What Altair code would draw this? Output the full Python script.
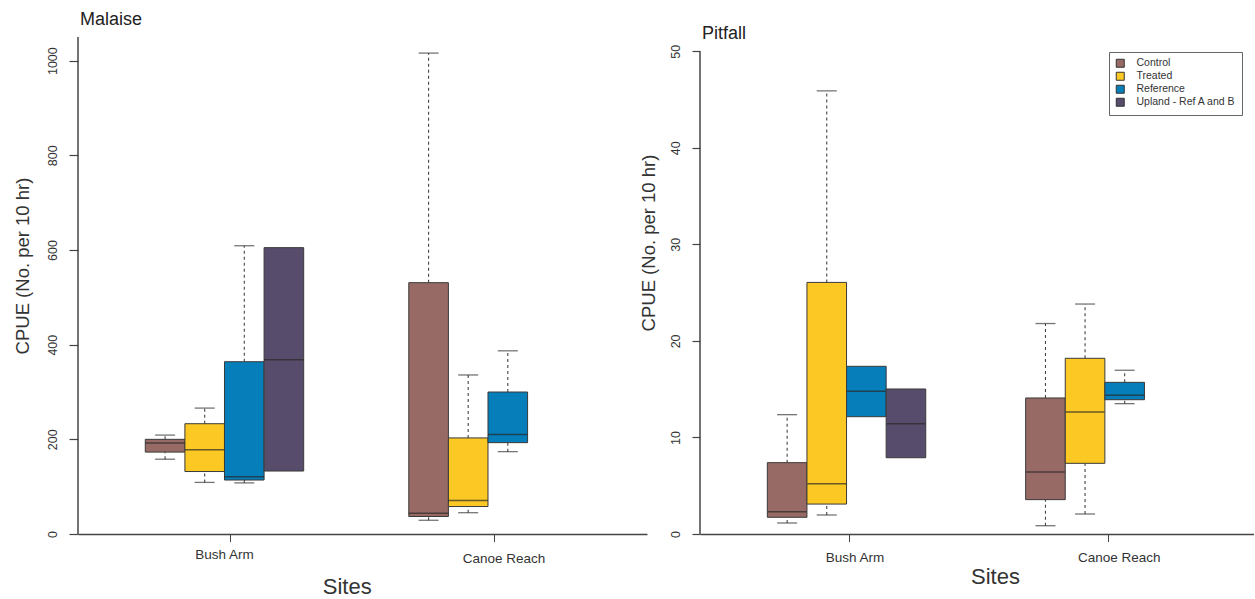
import altair as alt
import pandas as pd

FONT = "Liberation Sans"
INK = "#333333"
AXIS = "#444444"

GROUPS = ["Control", "Treated", "Reference", "Upland - Ref A and B"]
COLORS = ["#986A65", "#FBC824", "#057EBA", "#584C6C"]
SITES = ["Bush Arm", "Canoe Reach"]

# Malaise traps: box-plot summaries (whisker low, Q1, median, Q3, whisker high)
mal_site = ["Bush Arm"] * 4 + ["Canoe Reach"] * 3
mal_group = GROUPS + GROUPS[:3]
mal_low = [158, 109, 108, None, 29, 45, 174]
mal_q1 = [173, 132, 114, 133, 37, 58, 193]
mal_med = [192, 178, 121, 368, 44, 71, 210]
mal_q3 = [200, 233, 364, 605, 531, 203, 300]
mal_high = [209, 266, 609, None, 1016, 336, 387]

# Pitfall traps
pit_site = ["Bush Arm"] * 4 + ["Canoe Reach"] * 3
pit_group = GROUPS + GROUPS[:3]
pit_low = [1.14, 1.97, None, None, 0.86, 2.07, 13.5]
pit_q1 = [1.73, 3.1, 12.15, 7.9, 3.56, 7.32, 13.91]
pit_med = [2.31, 5.2, 14.78, 11.43, 6.42, 12.64, 14.37]
pit_q3 = [7.39, 26.06, 17.37, 15.02, 14.09, 18.2, 15.71]
pit_high = [12.36, 45.9, None, None, 21.8, 23.82, 16.96]

mal_ticks = [0, 200, 400, 600, 800, 1000]
pit_ticks = [0, 10, 20, 30, 40, 50]


def frame(site, group, low, q1, med, q3, high):
    return pd.DataFrame({"site": site, "group": group, "low": low, "q1": q1,
                         "med": med, "q3": q3, "high": high})


def panel(df, name, ticks, y_top, axis_top, width, height, box_w,
          pad_outer, align, slot_range, tick_size, label_pad, ytitle_xy,
          sites_xy, label_offset, xlabel_pad, title_offset, legend):
    yscale = alt.Scale(domain=[0, y_top], nice=False, zero=True)
    x = alt.X("site:N",
              scale=alt.Scale(domain=SITES, paddingInner=0,
                              paddingOuter=pad_outer, align=align),
              axis=alt.Axis(title="Sites", titleFontSize=22, titleFont=FONT,
                            titleFontWeight="normal", titleColor=INK,
                            titleX=sites_xy[0], titleY=sites_xy[1],
                            titleAlign="center", titleBaseline="middle",
                            labelAngle=0, labelFont=FONT, labelFontSize=13.5,
                            labelColor=INK, labelOffset=label_offset,
                            labelPadding=xlabel_pad, tickSize=7.5,
                            tickColor=AXIS, domainColor=AXIS, domainWidth=1.5,
                            bandPosition=0.523))
    xo = alt.XOffset("group:N",
                     scale=alt.Scale(domain=GROUPS, paddingInner=0,
                                     paddingOuter=0, range=slot_range))
    color = alt.Color("group:N",
                      scale=alt.Scale(domain=GROUPS, range=COLORS),
                      legend=legend)
    y_axis = alt.Axis(title="CPUE (No. per 10 hr)", values=ticks, format="d",
                      labelAngle=-90, labelAlign="center",
                      labelBaseline="middle", labelFont=FONT,
                      labelFontSize=12.5, labelColor=INK,
                      labelPadding=label_pad, tickSize=tick_size,
                      tickColor=AXIS, tickWidth=1.2, domain=False,
                      grid=False, titleFont=FONT, titleFontSize=18.5,
                      titleFontWeight="normal", titleColor=INK,
                      titleX=ytitle_xy[0], titleY=ytitle_xy[1],
                      titleAlign="center", titleBaseline="middle")

    base = alt.Chart(df)
    boxes = base.mark_bar(stroke="#3a3a3a", strokeWidth=1).encode(
        x=x, xOffset=xo,
        y=alt.Y("q1:Q", scale=yscale, axis=y_axis),
        y2="q3:Q", color=color)
    medians = base.mark_tick(color="#2a2a2a", size=box_w, thickness=1.5).encode(
        x=x, xOffset=xo, y=alt.Y("med:Q", scale=yscale))
    whisk = base.transform_filter("isValid(datum.low)")
    lower = whisk.mark_rule(color="#444444", strokeDash=[3, 3], strokeWidth=1.1).encode(
        x=x, xOffset=xo, y=alt.Y("low:Q", scale=yscale), y2="q1:Q")
    upper = whisk.mark_rule(color="#444444", strokeDash=[3, 3], strokeWidth=1.1).encode(
        x=x, xOffset=xo, y=alt.Y("q3:Q", scale=yscale), y2="high:Q")
    cap_lo = whisk.mark_tick(color="#3a3a3a", size=20, thickness=1.3).encode(
        x=x, xOffset=xo, y=alt.Y("low:Q", scale=yscale))
    cap_hi = whisk.mark_tick(color="#3a3a3a", size=20, thickness=1.3).encode(
        x=x, xOffset=xo, y=alt.Y("high:Q", scale=yscale))
    yline = alt.Chart(pd.DataFrame({"a": [0], "b": [axis_top]})).mark_rule(
        color=AXIS, strokeWidth=1.5).encode(
        x=alt.value(0), y=alt.Y("a:Q", scale=yscale), y2="b:Q")

    return alt.layer(boxes, lower, upper, cap_lo, cap_hi, medians, yline).properties(
        width=width, height=height,
        title=alt.TitleParams(name, anchor="start", frame="group", fontSize=18,
                              font=FONT, fontWeight="normal", color="#222222",
                              baseline="bottom", offset=title_offset, dx=2))


mal = frame(mal_site, mal_group, mal_low, mal_q1, mal_med, mal_q3, mal_high)
pit = frame(pit_site, pit_group, pit_low, pit_q1, pit_med, pit_q3, pit_high)

left = panel(mal, "Malaise", mal_ticks, 1050, 1050, 569, 497, 39.6,
             0.0797, 0.351, [52.55, 210.95], 9, 16.5, (-56, 228.5), (268.7, 52),
             {"expr": "datum.value == 'Bush Arm' ? 0 : 16"},
             {"expr": "datum.value == 'Bush Arm' ? 6 : 10"}, -11, None)

right = panel(pit, "Pitfall", pit_ticks, 51.48, 50, 554, 497, 38.75,
              0.0723, 0.396, [51.65, 206.65], 8, 17, (-52, 205.5), (295, 42),
              {"expr": "datum.value == 'Bush Arm' ? 11 : 17"}, 9, -24,
              alt.Legend(title=None, orient="none", legendX=409, legendY=15,
                         symbolType="square", symbolSize=64,
                         symbolStrokeColor="#333333", symbolStrokeWidth=1,
                         labelFont=FONT, labelFontSize=10.5, labelColor=INK,
                         labelOffset=11, rowPadding=0, padding=6,
                         strokeColor="#666666", fillColor="white"))

chart = alt.hconcat(left, right, spacing=53, bounds="flush").resolve_scale(
    color="independent"
).properties(
    padding={"left": 13, "top": 11, "right": 0, "bottom": 0},
    background="white"
).configure_view(strokeWidth=0, stroke="transparent")

chart.save("out.html", embed_options={"renderer": "svg", "actions": False})
